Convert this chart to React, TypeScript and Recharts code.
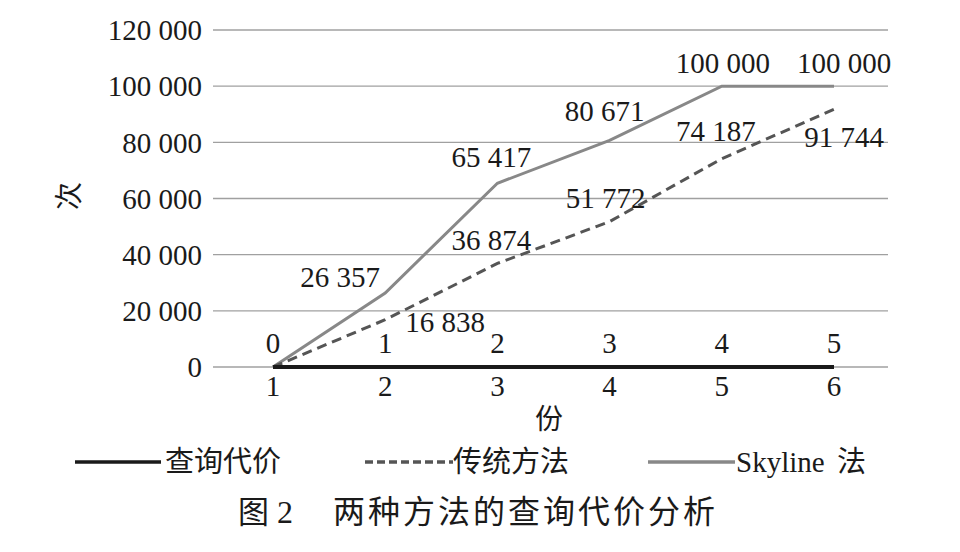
import React from 'react';
import { LineChart, Line, XAxis, YAxis, CartesianGrid, LabelList } from 'recharts';

const categories = ['1', '2', '3', '4', '5', '6'];
const queryCost = [0, 1, 2, 3, 4, 5];
const traditional = [0, 16838, 36874, 51772, 74187, 91744];
const skyline = [0, 26357, 65417, 80671, 100000, 100000];
const yTicks = [0, 20000, 40000, 60000, 80000, 100000, 120000];

const data = categories.map((c, i) => ({
  cat: c,
  q: queryCost[i],
  t: traditional[i],
  s: skyline[i],
}));

const FONT = 'Liberation Serif, Times New Roman, DejaVu Serif, serif';
const CJK = 'Noto Sans CJK SC, sans-serif';
const fmt = (v: number) => String(v).replace(/\B(?=(\d{3})+(?!\d))/g, ' ');

// label offsets (dx, dy relative to point; dy is baseline offset)
const Q_OFF = [[0, -14], [0, -14], [0, -14], [0, -14], [0, -14], [0, -14]];
const T_OFF = [null, [60, 12], [-6, -13], [-4, -14], [-6, -18], [10, 38]];
const S_OFF = [null, [-45, -6], [-6, -16], [-5, -19], [1, -13], [10, -13]];

const makeLabel = (offs: any[]) => (props: any) => {
  const { x, y, value, index } = props;
  const o = offs[index];
  if (!o) return null;
  return (
    <text x={x + o[0]} y={y + o[1]} textAnchor="middle" style={{ fontFamily: FONT }} fontSize={29} fill="#1a1a1a">
      {fmt(value)}
    </text>
  );
};

const legendItems = [
  { name: '查询代价', color: '#1a1a1a', dash: undefined as string | undefined, x1: 75, x2: 161, tx: 165, font: CJK },
  { name: '传统方法', color: '#555555', dash: '8 4', x1: 365, x2: 453, tx: 453, font: CJK },
  { name: 'Skyline', color: '#888888', dash: undefined, x1: 648, x2: 735, tx: 736, font: FONT },
];

export default function App() {
  return (
    <div style={{ position: 'relative', width: 960, height: 552, margin: -8, background: '#fff' }}>
      <LineChart
        width={960}
        height={552}
        data={data}
        margin={{ top: 30, right: 72, bottom: 145, left: 0 }}
      >
        <CartesianGrid vertical={false} stroke="#a0a0a0" strokeWidth={1.3} />
        <XAxis
          dataKey="cat"
          axisLine={false}
          tickLine={false}
          tickSize={0}
          tickMargin={8}
          height={40}
          padding={{ left: 60, right: 54 }}
          tick={{ style: { fontFamily: FONT }, fontSize: 29, fill: '#1a1a1a' }}
        />
        <YAxis
          width={213}
          domain={[0, 120000]}
          ticks={yTicks}
          axisLine={false}
          tickLine={false}
          tickSize={0}
          tickMargin={11}
          tickFormatter={fmt}
          tick={{ style: { fontFamily: FONT }, fontSize: 29, fill: '#1a1a1a' }}
        />
        <Line
          type="linear"
          dataKey="s"
          stroke="#888888"
          strokeWidth={3}
          dot={false}
          isAnimationActive={false}
        >
          <LabelList dataKey="s" content={makeLabel(S_OFF)} />
        </Line>
        <Line
          type="linear"
          dataKey="t"
          stroke="#555555"
          strokeWidth={3}
          strokeDasharray="10 6"
          dot={false}
          isAnimationActive={false}
        >
          <LabelList dataKey="t" content={makeLabel(T_OFF)} />
        </Line>
        <Line
          type="linear"
          dataKey="q"
          stroke="#1a1a1a"
          strokeWidth={4}
          dot={false}
          isAnimationActive={false}
        >
          <LabelList dataKey="q" content={makeLabel(Q_OFF)} />
        </Line>
      </LineChart>
      <svg
        width={960}
        height={552}
        style={{ position: 'absolute', left: 0, top: 0, pointerEvents: 'none' }}
      >
        <text
          x={0}
          y={0}
          transform="translate(79 196) rotate(-90)"
          textAnchor="middle"
          style={{ fontFamily: CJK }}
          fontSize={28}
          fill="#1a1a1a"
        >
          次
        </text>
        <text x={549} y={429} textAnchor="middle" style={{ fontFamily: CJK }} fontSize={28} fill="#1a1a1a">
          份
        </text>
        {legendItems.map((it) => (
          <g key={it.name}>
            <line
              x1={it.x1}
              x2={it.x2}
              y1={462}
              y2={462}
              stroke={it.color}
              strokeWidth={3.5}
              strokeDasharray={it.dash}
            />
            <text x={it.tx} y={472} style={{ fontFamily: it.font }} fontSize={29} fill="#1a1a1a">
              {it.name}
            </text>
          </g>
        ))}
        <text x={837} y={472} style={{ fontFamily: CJK }} fontSize={29} fill="#1a1a1a">
          法
        </text>
        <text x={238} y={523} style={{ fontFamily: CJK }} fontSize={31} fill="#1a1a1a">
          图
        </text>
        <text x={277} y={523} style={{ fontFamily: FONT }} fontSize={32} fill="#1a1a1a">
          2
        </text>
        <text x={333} y={523} style={{ fontFamily: CJK }} fontSize={32} letterSpacing={3} fill="#1a1a1a">
          两种方法的查询代价分析
        </text>
      </svg>
    </div>
  );
}
